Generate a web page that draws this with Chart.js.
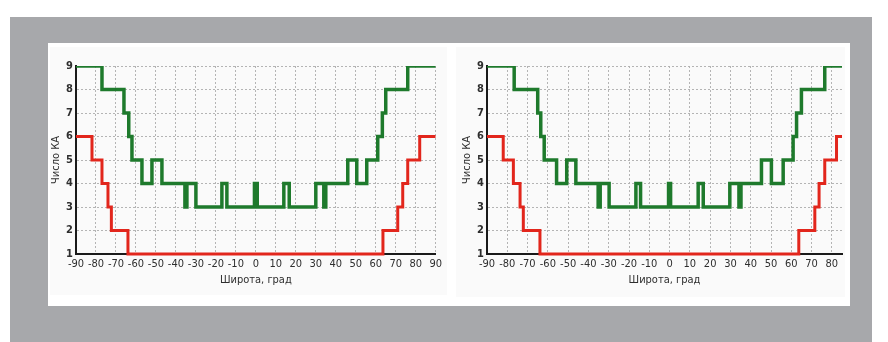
<!DOCTYPE html>
<html>
<head>
<meta charset="utf-8">
<script src="https://cdn.jsdelivr.net/npm/chart.js@4"></script>
<style>
  body { margin: 0; width: 888px; height: 342px; background: #fff; position: relative; overflow: hidden; }
  .frame { position: absolute; left: 10px; top: 17px; width: 862px; height: 325px; background: #a7a8ab; }
  .panel { position: absolute; left: 48px; top: 43px; width: 802px; height: 263px; background: #fff; }
  .box { position: absolute; background: #fafafa; }
  canvas { position: absolute; }
</style>
</head>
<body>
<div class="frame"></div>
<div class="panel"></div>
<div class="box" style="left:50px;top:47px;width:397px;height:248px"></div>
<div class="box" style="left:456px;top:47px;width:389px;height:250px"></div>
<div style="position:absolute;left:50px;top:52px;width:396px;height:240px"><canvas id="left"></canvas></div>
<div style="position:absolute;left:457px;top:52px;width:388px;height:240px"><canvas id="right"></canvas></div>
<script>
// step breakpoints (latitude, degrees) and number of satellites from each breakpoint on
const leftGreenLat = [-90, -77, -66, -63.6, -62, -57, -52, -47, -35.5, -34.5, -30, -17, -14.5, -0.7, 0.7, 14, 16.7, 30, 34, 35, 46, 50.5, 55.5, 61, 63.3, 65, 76, 90];
const leftGreenVal = [9, 8, 7, 6, 5, 4, 5, 4, 3, 4, 3, 4, 3, 4, 3, 4, 3, 4, 3, 4, 5, 4, 5, 6, 7, 8, 9, 9];
const leftRedLat = [-90, -82, -77, -74, -72.3, -64, 63.6, 71, 73.5, 76, 82, 90];
const leftRedVal = [6, 5, 4, 3, 2, 1, 2, 3, 4, 5, 6, 6];

const rightGreenLat = [-90, -76.6, -65, -63.5, -61.8, -55.7, -50.7, -46.2, -35.2, -34.2, -29.8, -16.6, -14.3, -0.5, 0.5, 14.1, 16.6, 29.7, 34.2, 35.2, 45.3, 50.2, 56, 60.9, 62.6, 65, 76.5, 85];
const rightGreenVal = [9, 8, 7, 6, 5, 4, 5, 4, 3, 4, 3, 4, 3, 4, 3, 4, 3, 4, 3, 4, 5, 4, 5, 6, 7, 8, 9, 9];
const rightRedLat = [-90, -82, -77, -73.7, -72.1, -63.9, 63.7, 71.6, 73.7, 76.5, 82.3, 85];
const rightRedVal = [6, 5, 4, 3, 2, 1, 2, 3, 4, 5, 6, 6];

const xTitle = "Широта, град";
const yTitle = "Число КА";

const FONT = "'Liberation Sans Narrow', 'DejaVu Sans Condensed', Arial, sans-serif";
const GREEN = "#1e7a2c";
const RED = "#e2261c";

function pts(lat, val) {
  return lat.map((x, i) => ({ x: x, y: val[i] }));
}

function makeChart(id, gLat, gVal, rLat, rVal, xMax, yWidth, yTitlePad, padRight) {
  new Chart(document.getElementById(id), {
    type: "line",
    data: {
      datasets: [
        { data: pts(rLat, rVal), borderColor: RED, borderWidth: 3, stepped: true,
          pointRadius: 0, clip: { left: 0, top: 0, right: 0, bottom: 2 } },
        { data: pts(gLat, gVal), borderColor: GREEN, borderWidth: 3.5, stepped: true,
          pointRadius: 0, clip: 0 }
      ]
    },
    options: {
      responsive: true,
      maintainAspectRatio: false,
      animation: false,
      events: [],
      layout: { padding: { top: 14, right: padRight, bottom: 0, left: 0 } },
      plugins: { legend: { display: false }, tooltip: { enabled: false } },
      scales: {
        x: {
          type: "linear", min: -90, max: xMax,
          afterFit: s => { s.height = 38; },
          ticks: { stepSize: 10, includeBounds: false, padding: 4, maxRotation: 0,
                   color: "#2e2e2e", font: { family: FONT, size: 11 } },
          grid: { color: "#b4b4b4", lineWidth: 1, drawTicks: false },
          border: { color: "#1a1a1a", width: 2, dash: [2, 2] },
          title: { display: true, text: xTitle, color: "#2e2e2e", padding: { top: 0, bottom: 5 },
                   font: { family: FONT, size: 11 } }
        },
        y: {
          min: 1, max: 9,
          afterFit: s => { s.width = yWidth; },
          ticks: { stepSize: 1, padding: 3, color: "#2e2e2e", font: { family: FONT, size: 11, weight: "bold" } },
          grid: { color: "#b4b4b4", lineWidth: 1, drawTicks: false },
          border: { color: "#1a1a1a", width: 2, dash: [2, 2] },
          title: { display: true, text: yTitle, color: "#2e2e2e", padding: { top: yTitlePad, bottom: 0 },
                   font: { family: FONT, size: 11 } }
        }
      }
    }
  });
}

makeChart("left", leftGreenLat, leftGreenVal, leftRedLat, leftRedVal, 90, 26, 0, 6);
makeChart("right", rightGreenLat, rightGreenVal, rightRedLat, rightRedVal, 85, 30, 4, 3);
</script>
</body>
</html>
